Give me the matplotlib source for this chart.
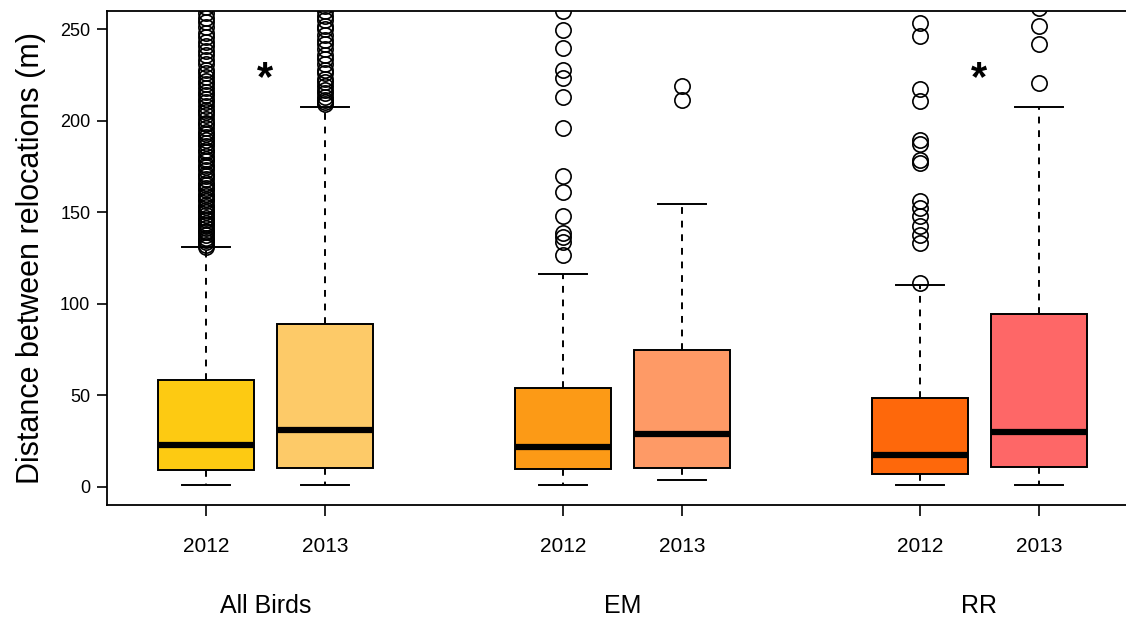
import matplotlib
matplotlib.use("Agg")
import matplotlib.pyplot as plt
from matplotlib.transforms import blended_transform_factory

plt.rcParams['font.family'] = ['Liberation Sans', 'DejaVu Sans']

# ---- data ------------------------------------------------------------
groups = ["All Birds", "EM", "RR"]
years = ["2012", "2013", "2012", "2013", "2012", "2013"]
positions = [1, 2, 4, 5, 7, 8]

q1 = [9.3, 10.0, 9.7, 10.2, 7.1, 10.8]
medians = [22.6, 30.8, 21.5, 28.8, 17.1, 29.9]
q3 = [58.1, 89.0, 53.9, 74.5, 48.5, 94.4]
whisker_low = [1.1, 1.1, 1.1, 3.5, 1.1, 1.1]
whisker_high = [131.0, 207.7, 116.4, 154.3, 110.4, 207.7]

outliers_ab_2012 = [131, 132, 133.5, 135, 136, 137.5, 139, 140, 141.5, 143,
                    144, 146, 147, 148.5, 150, 151.5, 153, 154, 156, 157.5,
                    159, 160, 162, 163.5, 165, 166, 168, 170, 171, 173,
                    174.5, 176, 178, 179, 181, 183, 184, 186, 188, 189.5,
                    191, 193, 194, 196, 198, 199, 201, 203, 205, 206,
                    208, 210, 212, 214, 216, 218, 220, 222, 224, 226,
                    228, 231, 233, 236, 238, 241, 243, 246, 248, 251,
                    254, 256, 259, 262]
outliers_ab_2013 = [209, 210, 211.5, 213, 215, 217, 219, 221, 223, 226,
                    228, 231, 234, 236, 239, 242, 244, 247, 250, 252,
                    255, 257, 260, 263]
outliers_em_2012 = [126.8, 134.0, 136.4, 138.6, 148.0, 160.9, 169.6, 196.0,
                    212.9, 223.3, 227.9, 239.7, 249.7, 260.0]
outliers_em_2013 = [211.1, 218.8]
outliers_rr_2012 = [111.3, 133.2, 137.7, 142.6, 147.7, 152.3, 155.9, 176.9,
                    178.7, 187.4, 189.6, 210.6, 217.3, 246.6, 253.4]
outliers_rr_2013 = [220.6, 241.9, 251.9, 261.5]

colors = ["#FDCA12", "#FDCA68", "#FC9A16", "#FE9A66", "#FE680B", "#FE6767"]

significant_y = 223  # height of the significance asterisks
significant_x = [1.5, 7.5]

# ---- figure ----------------------------------------------------------
W, H = 1126, 619
fig = plt.figure(figsize=(W / 100, H / 100), dpi=100)
ax_left, ax_right, ax_top, ax_bottom = 107, 1138, 11, 505
ax = fig.add_axes([ax_left / W, (H - ax_bottom) / H,
                   (ax_right - ax_left) / W, (ax_bottom - ax_top) / H])

fliers = [outliers_ab_2012, outliers_ab_2013, outliers_em_2012,
          outliers_em_2013, outliers_rr_2012, outliers_rr_2013]
stats = []
for i in range(len(positions)):
    stats.append(dict(q1=q1[i], med=medians[i], q3=q3[i],
                      whislo=whisker_low[i], whishi=whisker_high[i],
                      fliers=fliers[i]))

bp = ax.bxp(stats, positions=positions, widths=0.8, patch_artist=True,
            showfliers=True,
            boxprops=dict(edgecolor="black", linewidth=1.4),
            medianprops=dict(color="black", linewidth=4.5, solid_capstyle="butt"),
            whiskerprops=dict(color="black", linewidth=1.4, linestyle=(0, (3.5, 3.5))),
            capprops=dict(color="black", linewidth=1.4),
            capwidths=0.4,
            flierprops=dict(marker="o", markersize=11, markerfacecolor="none",
                            markeredgecolor="black", markeredgewidth=1.2))
for patch, c in zip(bp["boxes"], colors):
    patch.set_facecolor(c)

for x in significant_x:
    ax.text(x, significant_y, "*", fontsize=30, fontweight="bold",
            ha="center", va="center")

ax.set_xlim(1 - 99 / 119, 8 + 99 / 119)
ax.set_ylim(-10, 260)
ax.set_yticks([0, 50, 100, 150, 200, 250])
ax.set_xticks(positions)
ax.set_xticklabels(years, fontsize=15)
ax.tick_params(axis="x", direction="out", length=8, width=1.2, pad=15)
ax.tick_params(axis="y", direction="out", length=7, width=1.2, pad=5, labelsize=13)
for s in ["left", "bottom", "top"]:
    ax.spines[s].set_linewidth(1.3)
ax.spines["right"].set_visible(False)

ax.set_ylabel("Distance between relocations (m)", fontsize=22, labelpad=10)

trans = blended_transform_factory(ax.transData, fig.transFigure)
for g, x in zip(groups, [1.5, 4.5, 7.5]):
    ax.text(x, (H - 606) / H, g, transform=trans, fontsize=18,
            ha="center", va="center")

fig.savefig("out.png", dpi=100)
